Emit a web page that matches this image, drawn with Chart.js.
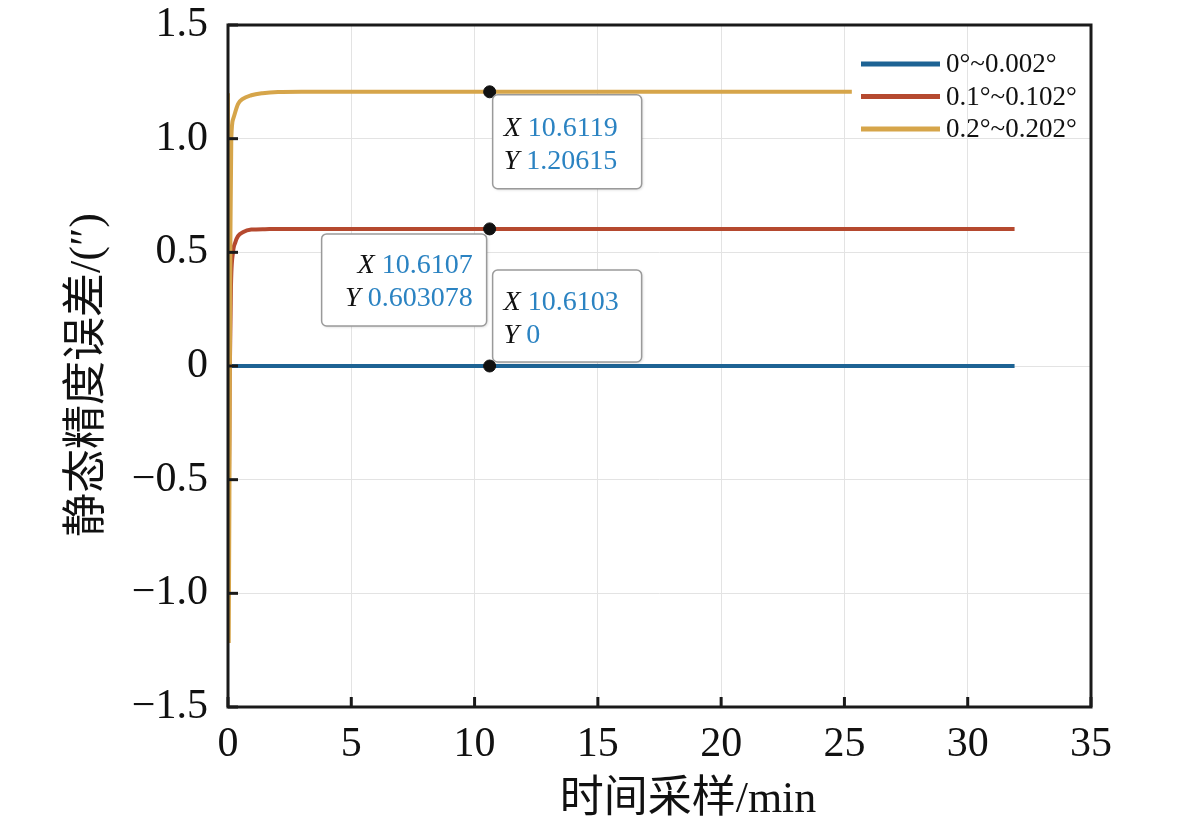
<!DOCTYPE html>
<html>
<head>
<meta charset="utf-8">
<script src="https://cdn.jsdelivr.net/npm/chart.js@4.4.0/dist/chart.umd.min.js"></script>
<style>
html, body { margin: 0; padding: 0; background: #fff; }
#wrap { width: 1181px; height: 827px; position: relative; }
</style>
</head>
<body>
<div id="wrap"><canvas id="chart"></canvas></div>
<script>
const seriesLabels = ['0°~0.002°', '0.1°~0.102°', '0.2°~0.202°'];
const seriesColors = ['#1d6394', '#b5492f', '#d6a54a'];

// time in min, error in arc-seconds
const blueTime = [0, 10.6103, 31.9];
const blueError = [0, 0, 0];
const redTime = [0, 0.03, 0.07, 0.12, 0.2, 0.3, 0.405, 0.6, 0.945, 1.5, 2.5, 10.6107, 31.9];
const redError = [0.6, -0.6, -0.05, 0.35, 0.498, 0.545, 0.571, 0.588, 0.6, 0.602, 0.603, 0.603078, 0.603];
const yellowTime = [0, 0.03, 0.07, 0.1, 0.134, 0.22, 0.405, 0.6, 0.945, 1.4, 2.03, 3, 10.6119, 25.3];
const yellowError = [1.2, -1.21, -0.2, 0.6, 1.0, 1.09, 1.152, 1.175, 1.191, 1.2, 1.205, 1.206, 1.20615, 1.206];

const tipTime = [10.6103, 10.6107, 10.6119];
const tipError = [0, 0.603078, 1.20615];
const tipXText = ['10.6103', '10.6107', '10.6119'];
const tipYText = ['0', '0.603078', '1.20615'];

const xTitle = '时间采样/min';
const yTitle = '静态精度误差/(″)';

const SERIF = '"Liberation Serif", "Noto Sans CJK SC", serif';
Chart.defaults.font.family = SERIF;
Chart.defaults.color = '#111';

function toPoints(xs, ys) {
    return xs.map((x, i) => ({ x: x, y: ys[i] }));
}

function formatError(v) {
    const r = Math.round(v * 10) / 10;
    if (r === 0) return '0';
    return (r < 0 ? '\u2212' : '') + Math.abs(r).toFixed(1);
}

function drawTip(ctx, px, py, i) {
    // box placement around the marked point: blue above-right, red below-left, yellow below-right
    let box, textX, line1, line2, alignRight = false;
    if (i === 0) {
        box = { x: px + 3, y: py - 96, w: 149, h: 92 };
        textX = px + 14; line1 = py - 63; line2 = py - 30;
    } else if (i === 1) {
        box = { x: px - 168, y: py + 5, w: 165, h: 92 };
        textX = px - 17; line1 = py + 37; line2 = py + 70; alignRight = true;
    } else {
        box = { x: px + 3, y: py + 3, w: 149, h: 94 };
        textX = px + 14; line1 = py + 37; line2 = py + 70;
    }
    ctx.save();
    ctx.shadowColor = 'rgba(0,0,0,0.18)';
    ctx.shadowBlur = 3;
    ctx.shadowOffsetX = 1;
    ctx.shadowOffsetY = 1;
    ctx.fillStyle = '#fff';
    ctx.beginPath();
    ctx.roundRect(box.x, box.y, box.w, box.h, 5);
    ctx.fill();
    ctx.shadowColor = 'transparent';
    ctx.strokeStyle = '#9a9a9a';
    ctx.lineWidth = 1.5;
    ctx.stroke();

    ctx.textBaseline = 'middle';
    ctx.textAlign = 'left';
    [['X', tipXText[i], line1], ['Y', tipYText[i], line2]].forEach(([k, v, ly]) => {
        ctx.font = 'italic 28px ' + SERIF;
        const kw = ctx.measureText(k + ' ').width;
        ctx.font = '28px ' + SERIF;
        const vw = ctx.measureText(v).width;
        const start = alignRight ? textX - kw - vw : textX;
        ctx.font = 'italic 28px ' + SERIF;
        ctx.fillStyle = '#111';
        ctx.fillText(k, start, ly);
        ctx.font = '28px ' + SERIF;
        ctx.fillStyle = '#2b83c2';
        ctx.fillText(v, start + kw, ly);
    });
    ctx.restore();
}

const decorPlugin = {
    id: 'decor',
    afterDraw(chart) {
        const { ctx, chartArea: a, scales } = chart;
        ctx.save();

        // inward ticks
        ctx.strokeStyle = '#1a1a1a';
        ctx.lineWidth = 3;
        scales.x.ticks.forEach(t => {
            const px = scales.x.getPixelForValue(t.value);
            ctx.beginPath();
            ctx.moveTo(px, a.bottom);
            ctx.lineTo(px, a.bottom - 10);
            ctx.stroke();
        });
        scales.y.ticks.forEach(t => {
            const py = scales.y.getPixelForValue(t.value);
            ctx.beginPath();
            ctx.moveTo(a.left, py);
            ctx.lineTo(a.left + 10, py);
            ctx.stroke();
        });

        // frame
        ctx.strokeRect(a.left, a.top, a.right - a.left, a.bottom - a.top);

        // axis titles
        ctx.fillStyle = '#111';
        ctx.font = '44px ' + SERIF;
        ctx.textAlign = 'center';
        ctx.textBaseline = 'middle';
        ctx.fillText(xTitle, 688, 800);
        ctx.save();
        ctx.translate(88, 375);
        ctx.rotate(-Math.PI / 2);
        ctx.fillText(yTitle, 0, 0);
        ctx.restore();

        // legend
        ctx.font = '27px ' + SERIF;
        ctx.textAlign = 'left';
        ctx.lineWidth = 5;
        seriesLabels.forEach((label, i) => {
            const ly = 64 + i * 32.5;
            ctx.strokeStyle = seriesColors[i];
            ctx.beginPath();
            ctx.moveTo(861, ly);
            ctx.lineTo(940, ly);
            ctx.stroke();
            ctx.fillStyle = '#111';
            ctx.fillText(label, 946, ly + 1);
        });

        // data tips
        tipTime.forEach((t, i) => {
            drawTip(ctx, scales.x.getPixelForValue(t), scales.y.getPixelForValue(tipError[i]), i);
        });
        ctx.restore();
    }
};

const lineStyle = {
    borderWidth: 4,
    pointRadius: 0,
    fill: false,
    cubicInterpolationMode: 'monotone'
};

new Chart(document.getElementById('chart'), {
    type: 'line',
    data: {
        datasets: [
            { label: seriesLabels[0], data: toPoints(blueTime, blueError), borderColor: seriesColors[0], order: 3, ...lineStyle },
            { label: seriesLabels[1], data: toPoints(redTime, redError), borderColor: seriesColors[1], order: 2, ...lineStyle },
            { label: seriesLabels[2], data: toPoints(yellowTime, yellowError), borderColor: seriesColors[2], order: 1, ...lineStyle },
            {
                label: 'tips', data: toPoints(tipTime, tipError), showLine: false,
                pointRadius: 6, pointBackgroundColor: '#111', pointBorderColor: '#111', order: 0
            }
        ]
    },
    options: {
        responsive: true,
        maintainAspectRatio: false,
        animation: false,
        layout: { padding: { left: 0, right: 90, top: 25, bottom: 0 } },
        plugins: {
            legend: { display: false },
            tooltip: { enabled: false }
        },
        scales: {
            x: {
                type: 'linear',
                min: 0,
                max: 35,
                afterFit: s => { s.height = 120; s.paddingLeft = 0; s.paddingRight = 0; },
                ticks: { stepSize: 5, padding: 13, font: { size: 42 }, color: '#111', maxRotation: 0 },
                grid: { color: '#e3e3e3', lineWidth: 1, drawTicks: false },
                border: { display: false }
            },
            y: {
                min: -1.5,
                max: 1.5,
                afterFit: s => { s.width = 228; s.paddingTop = 0; s.paddingBottom = 0; },
                ticks: { stepSize: 0.5, padding: 20, font: { size: 42 }, color: '#111', callback: v => formatError(v) },
                grid: { color: '#e3e3e3', lineWidth: 1, drawTicks: false },
                border: { display: false }
            }
        }
    },
    plugins: [decorPlugin]
});
</script>
</body>
</html>
